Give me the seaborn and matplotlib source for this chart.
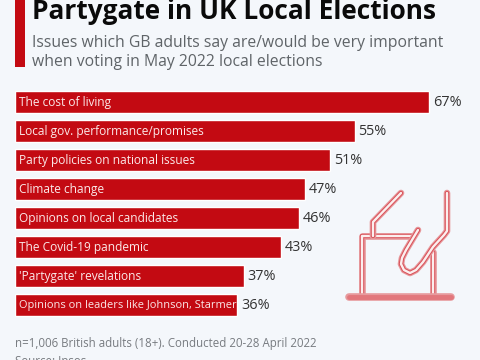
import pandas as pd
import seaborn as sns
from matplotlib import pyplot as plt
from matplotlib.patches import Rectangle

categories = ['The cost of living', 'Local gov. performance/promises', 'Party policies on national issues',
              'Climate change', 'Opinions on local candidates', 'The Covid-19 pandemic',
              "'Partygate' revelations", 'Opinions on leaders like Johnson, Starmer']
values = [67, 55, 51, 47, 46, 43, 37, 36]

red = '#c30a12'
bg = '#f4f7fb'

sns.set_theme(style='white')
plt.rcParams['font.family'] = ['Open Sans', 'DejaVu Sans']

d = pd.DataFrame({'issue': categories, 'value': values})
fig = plt.figure(figsize=(4.8, 3.6), dpi=100, facecolor=bg)

# axes covers the bars only, x scale is 6.18 px per percent
ax = fig.add_axes([15 / 480, 1 - 319.5 / 360, 461 / 480, 232 / 360], facecolor='none')
sns.barplot(data=d, x='value', y='issue', color=red, saturation=1, width=0.73, ax=ax)
ax.set_xlim(0, 461 / 6.18)
ax.set_ylim(7.5, -0.5)
ax.set_axis_off()
for i, c in enumerate(categories):
    # last label is squeezed in the original so it fits its bar
    size = 7.9 if len(c) > 40 else 8.6
    ax.text(0.65, i + 0.01, c, color='#fbe9e9', fontsize=size, va='center', ha='left')
    ax.text(values[i] + 0.6, i + 0.01, str(values[i]) + '%', color='#333333', fontsize=10.4, va='center', ha='left')

# header
fig.add_artist(Rectangle((15 / 480, 1 - 67 / 360), 10 / 480, 67 / 360, transform=fig.transFigure, color=red, lw=0))
fig.text(32 / 480, 1 - 11.5 / 360, 'Partygate in UK Local Elections', fontsize=18.95, fontweight='bold',
         color='#0a0a0a', va='center')
fig.text(32 / 480, 1 - 43 / 360, 'Issues which GB adults say are/would be very important', fontsize=11.3,
         color='#5f6468', va='center')
fig.text(32 / 480, 1 - 62 / 360, 'when voting in May 2022 local elections', fontsize=11.3,
         color='#5f6468', va='center')

# footer
fig.text(15 / 480, 1 - 344 / 360, 'n=1,006 British adults (18+). Conducted 20-28 April 2022', fontsize=8.3,
         color='#777b80', va='center')
fig.text(15 / 480, 1 - 361.5 / 360, 'Source: Ipsos', fontsize=8.3, color='#777b80', va='center')

# ballot box icon, pixel coordinates of the picture
icon = fig.add_axes([0, 0, 1, 1], facecolor='none')
icon.set_xlim(0, 480)
icon.set_ylim(360, 0)
icon.set_axis_off()
icon_paths = [
    ([362, 362, 412], [296, 236, 236]),
    ([433, 433], [296, 252]),
    ([373, 373, 401], [236, 222, 193]),
    ([447, 447, 444, 433, 423, 416, 410, 404, 401, 402, 406, 418],
     [193, 231, 235, 247, 262, 270, 273, 270, 264, 258, 250, 230]),
]
for xs, ys in icon_paths:
    icon.plot(xs, ys, color='#e79a9d', lw=4.8, solid_capstyle='round', solid_joinstyle='round')
    icon.plot(xs, ys, color='#d9525a', lw=3.2, solid_capstyle='round', solid_joinstyle='round')
    icon.plot(xs, ys, color='#fbeeee', lw=1.7, solid_capstyle='round', solid_joinstyle='round')
icon.plot([349, 451], [297, 297], color='#e79a9d', lw=5.5, solid_capstyle='round')
icon.plot([349, 451], [297, 297], color='#e2777c', lw=3.5, solid_capstyle='round')
fig.savefig('out.png', dpi=100, facecolor=bg)
